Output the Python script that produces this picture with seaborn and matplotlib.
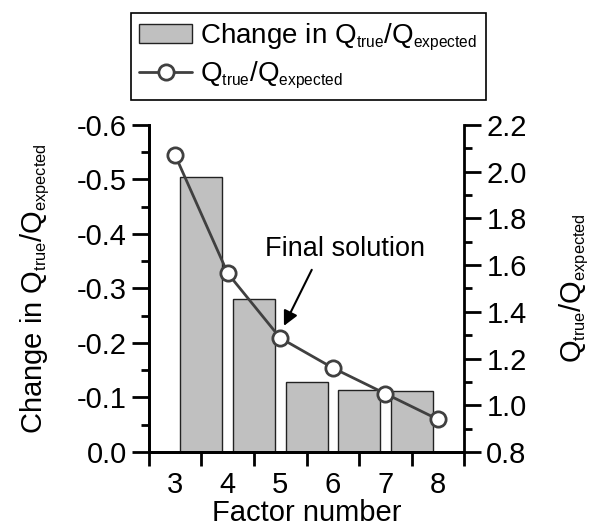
import matplotlib
matplotlib.use("Agg")
import matplotlib.pyplot as plt
import matplotlib._mathtext as mathtext_internal
import seaborn as sns
from matplotlib.ticker import MultipleLocator, FormatStrFormatter, FixedLocator
from matplotlib.patches import Patch
from matplotlib.lines import Line2D

# Data
factors = [3, 4, 5, 6, 7, 8]
q_ratio = [2.07, 1.565, 1.288, 1.16, 1.05, 0.94]
bar_x = [3.5, 4.5, 5.5, 6.5, 7.5]
q_change = [-0.505, -0.280, -0.128, -0.113, -0.111]

sns.set_style("ticks", {"axes.edgecolor": "black", "text.color": "black",
                        "axes.labelcolor": "black", "xtick.color": "black",
                        "ytick.color": "black"})
plt.rcParams["font.family"] = ["Liberation Sans", "DejaVu Sans"]
plt.rcParams["mathtext.fontset"] = "custom"
plt.rcParams["mathtext.rm"] = "Liberation Sans"
plt.rcParams["axes.unicode_minus"] = False
# smaller subscripts, like the original figure
mathtext_internal.SHRINK_FACTOR = 0.56

fs = 21
line_col = "#404040"

fig = plt.figure(figsize=(5.9, 5.31), dpi=100)
ax = fig.add_axes([0.2525, 0.1488, 0.534, 0.6158])

sns.barplot(x=bar_x, y=q_change, native_scale=True, color="#c0c0c0",
            saturation=1, edgecolor="#222222", linewidth=1.0, width=0.8, ax=ax)

ax2 = ax.twinx()
sns.lineplot(x=factors, y=q_ratio, ax=ax2, color=line_col, linewidth=2,
             marker="o", markersize=11, markerfacecolor="white",
             markeredgecolor=line_col, markeredgewidth=2)

# x axis: ticks between factors, labels on factors
ax.set_xlim(2.5, 8.5)
ax.xaxis.set_major_locator(FixedLocator([2.5, 3.5, 4.5, 5.5, 6.5, 7.5, 8.5]))
ax.xaxis.set_minor_locator(FixedLocator(factors))
ax.set_xticklabels([], minor=False)
ax.set_xticklabels([str(f) for f in factors], minor=True)
ax.tick_params(axis="x", which="major", length=10, width=2, direction="out")
ax.tick_params(axis="x", which="minor", length=0, labelsize=fs, pad=14)

# left axis (inverted)
ax.set_ylim(0, -0.6)
ax.yaxis.set_major_locator(MultipleLocator(0.1))
ax.yaxis.set_minor_locator(MultipleLocator(0.05))
ax.yaxis.set_major_formatter(FormatStrFormatter("%.1f"))
ax.tick_params(axis="y", which="major", length=12, width=2, labelsize=fs, pad=4)
ax.tick_params(axis="y", which="minor", length=6, width=2)

# right axis
ax2.set_ylim(0.8, 2.2)
ax2.yaxis.set_major_locator(MultipleLocator(0.2))
ax2.yaxis.set_minor_locator(MultipleLocator(0.1))
ax2.yaxis.set_major_formatter(FormatStrFormatter("%.1f"))
ax2.tick_params(axis="y", which="major", length=12, width=2, labelsize=fs, pad=4)
ax2.tick_params(axis="y", which="minor", length=6, width=2)

for a in (ax, ax2):
    a.spines["top"].set_visible(False)
    for s in ("left", "right", "bottom"):
        a.spines[s].set_linewidth(2)
ax.spines["right"].set_visible(False)

lbl = r"Q$_{\mathregular{true}}$/Q$_{\mathregular{expected}}$"
ax.set_xlabel("Factor number", fontsize=21, labelpad=0)
ax.set_ylabel("Change in " + lbl, fontsize=fs, labelpad=18)
ax2.set_ylabel(lbl, fontsize=fs, labelpad=22)

ax2.annotate("", xy=(5.07, 1.34), xytext=(5.6, 1.58),
             arrowprops=dict(arrowstyle="-|>", color="black", lw=1.5,
                             mutation_scale=22, shrinkA=0, shrinkB=0))
ax2.text(6.23, 1.67, "Final solution", fontsize=19.5, ha="center", va="center")

handles = [Patch(facecolor="#c0c0c0", edgecolor="#222222", linewidth=1.0),
           Line2D([], [], color=line_col, linewidth=2, marker="o", markersize=11,
                  markerfacecolor="white", markeredgecolor=line_col, markeredgewidth=2)]
leg = fig.legend(handles, ["Change in " + lbl, lbl], loc="upper left",
                 bbox_to_anchor=(0.222, 0.9755), fontsize=20, frameon=True,
                 fancybox=False, edgecolor="black", framealpha=1,
                 handlelength=1.9, handletextpad=0.3, borderpad=0.3,
                 labelspacing=0.25, borderaxespad=0)
leg.get_frame().set_linewidth(1.2)

fig.savefig("out.png", dpi=100)
